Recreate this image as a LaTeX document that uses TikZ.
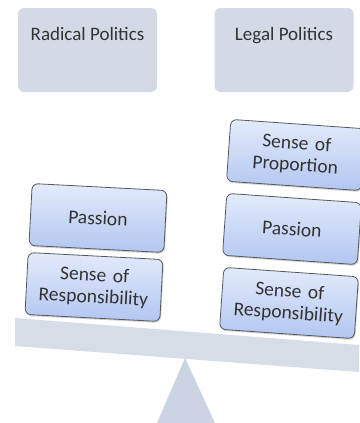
\documentclass[tikz,border=0pt]{standalone}
\usepackage{fontspec}
\setmainfont{Carlito}
\usepackage{tikz}
\usetikzlibrary{shadows,positioning}
\definecolor{TitleGray}{HTML}{D3DAE5}
\definecolor{BlockTop}{HTML}{E3EBFB}
\definecolor{BlockBottom}{HTML}{B2C6F1}
\definecolor{BlockEdge}{HTML}{55595F}
\definecolor{TextGray}{HTML}{333333}
\definecolor{BeamGray}{HTML}{D6DDE7}
\definecolor{FootGray}{HTML}{CBD4E2}

\begin{document}
\begin{tikzpicture}[x=1pt,y=-1pt,
   titlebox/.style={rounded corners=6pt,fill=TitleGray,minimum width=139pt,minimum height=84pt},
   titletext/.style={text=TextGray,font=\fontsize{19}{22}\selectfont,inner sep=0pt},
   block/.style={rounded corners=6pt,draw=BlockEdge,line width=0.8pt,
     top color=BlockTop,bottom color=BlockBottom,
     drop shadow={shadow xshift=1pt,shadow yshift=-1.5pt,opacity=0.35},
     minimum width=135pt,minimum height=62pt,text width=130pt,align=center,
     text=TextGray,font=\fontsize{19.5}{22}\selectfont,inner sep=2pt}]
   \useasboundingbox (0,0) rectangle (359,423);

   % fulcrum and beam
   \fill[FootGray] (185,358) -- (157,423) -- (215,423) -- cycle;
   \fill[BeamGray] (15,318) -- (359,345) -- (359,372) -- (15,346) -- cycle;

   % headings
   \node[titlebox] (radical) at (87.5,50) {};
   \node[titlebox] (legal) at (284,50) {};
   \node[titletext,below=19pt of radical.north] (radicaltxt) {Radical Politics};
   \node[titletext,below=19pt of legal.north] (legaltxt) {Legal Politics};

   % left pan
   \node[block,rotate=-3] (lpassion) at (98,218) {Passion};
   \node[block,rotate=-3] (lresp) at (94,287) {Sense of\\Responsibility};

   % right pan
   \node[block,rotate=-4] (rprop) at (296,155) {Sense of\\Proportion};
   \node[block,rotate=-4] (rpassion) at (292,229) {Passion};
   \node[block,rotate=-4] (rresp) at (289,303) {Sense of\\Responsibility};
\end{tikzpicture}
\end{document}
